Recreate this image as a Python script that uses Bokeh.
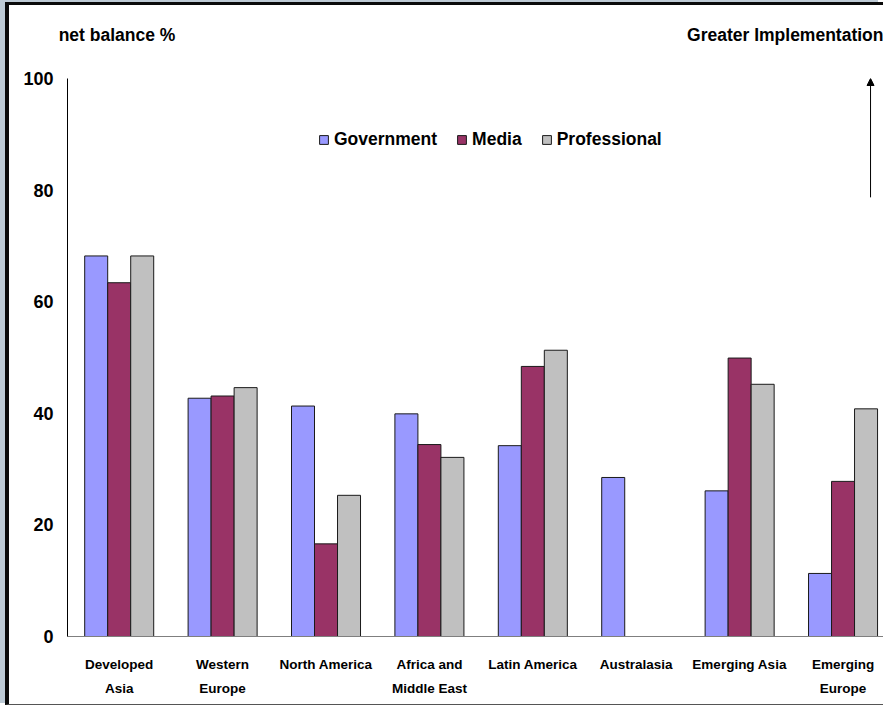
from bokeh.plotting import figure
from bokeh.models import (Range1d, FixedTicker, LinearAxis, Legend, LegendItem,
                          Arrow, NormalHead, ColumnDataSource)
from bokeh.transform import dodge
from bokeh.embed import file_html
from bokeh.resources import INLINE

NAN = float("nan")

# ---------------- data ----------------
categories = ["Developed Asia", "Western Europe", "North America", "Africa and Middle East",
              "Latin America", "Australasia", "Emerging Asia", "Emerging Europe"]
label_line1 = ["Developed", "Western", "North America", "Africa and",
               "Latin America", "Australasia", "Emerging Asia", "Emerging"]
label_line2 = ["Asia", "Europe", "", "Middle East", "", "", "", "Europe"]
government = [68.2, 42.7, 41.3, 39.9, 34.2, 28.5, 26.1, 11.3]
media = [63.4, 43.1, 16.6, 34.4, 48.4, NAN, 49.9, 27.8]
professional = [68.2, 44.6, 25.3, 32.1, 51.3, NAN, 45.2, 40.8]
series_names = ["Government", "Media", "Professional"]
series_colors = ["#9999FF", "#993366", "#C0C0C0"]
y_ticks = [0, 20, 40, 60, 80, 100]
y_axis_title = "net balance %"
arrow_title = "Greater Implementation"

FONT = "Liberation Sans, Arial, sans-serif"

xs = [i + 0.5 for i in range(len(categories))]
src = ColumnDataSource(dict(x=xs, cat=categories, gov=government, med=media, pro=professional))

p = figure(width=878, height=703, x_range=Range1d(0, 7.93), y_range=Range1d(0, 100),
           output_backend="svg", toolbar_location=None,
           x_axis_location=None, y_axis_location=None,
           min_border_left=58, min_border_right=0, min_border_top=73, min_border_bottom=72)
p.background_fill_color = "white"
p.border_fill_color = "white"
p.outline_line_color = None
p.grid.visible = False
p.margin = (2, 0, 0, 5)
p.styles = {"border-left": "4px solid #0a0a0a", "border-top": "3px solid #0a0a0a",
            "border-bottom": "1px solid #555555", "box-shadow": "-5px -2px 0 0 #BDCAD5"}

bw = 0.2225
renderers = []
for off, col, name, color in zip([-bw, 0, bw], ["gov", "med", "pro"], series_names, series_colors):
    r = p.vbar(x=dodge("x", off, range=p.x_range), top=col, bottom=0, width=bw, source=src,
               fill_color=color, line_color="#1a1a1a", line_width=1)
    renderers.append((name, r))

def style_axis(ax, size, standoff):
    ax.major_tick_line_color = None
    ax.minor_tick_line_color = None
    ax.major_tick_out = 0
    ax.major_tick_in = 0
    ax.major_label_standoff = standoff
    ax.major_label_text_font = FONT
    ax.major_label_text_font_style = "bold"
    ax.major_label_text_font_size = size
    ax.major_label_text_color = "black"
    return ax

# y axis
ya = style_axis(LinearAxis(ticker=FixedTicker(ticks=y_ticks)), "18px", 14)
ya.axis_line_color = "black"
ya.axis_line_width = 1
p.add_layout(ya, "left")

# x axes (two lines of category labels)
def xaxis(labels, line_color, standoff):
    ax = LinearAxis(ticker=FixedTicker(ticks=xs),
                    major_label_overrides={x: l for x, l in zip(xs, labels)})
    ax.axis_line_color = line_color
    ax.axis_line_width = 1
    return style_axis(ax, "13.5px", standoff)

p.add_layout(xaxis(label_line1, "#7f7f7f", 20), "below")
p.add_layout(xaxis(label_line2, None, 6), "below")

# top texts as an axis above the frame
title_pos = [0.479, 6.944]
ta = LinearAxis(ticker=FixedTicker(ticks=title_pos),
                major_label_overrides={title_pos[0]: y_axis_title, title_pos[1]: arrow_title})
ta.axis_line_color = None
style_axis(ta, "17.5px", 34)
p.add_layout(ta, "above")

# legend
legend = Legend(items=[LegendItem(label=n, renderers=[r]) for n, r in renderers],
                orientation="horizontal", location=(251, 486),
                glyph_width=11, glyph_height=11, label_standoff=5, spacing=19,
                padding=0, margin=0, border_line_color=None, background_fill_alpha=0,
                label_text_font=FONT, label_text_font_style="bold",
                label_text_font_size="17.5px", label_text_color="black")
p.add_layout(legend, "center")

p.add_layout(Arrow(x_start=7.766, y_start=78.7, x_end=7.766, y_end=100,
                   line_color="black", line_width=1,
                   end=NormalHead(size=7, fill_color="black", line_color="black")))

open("out.html", "w").write(file_html(p, INLINE))
